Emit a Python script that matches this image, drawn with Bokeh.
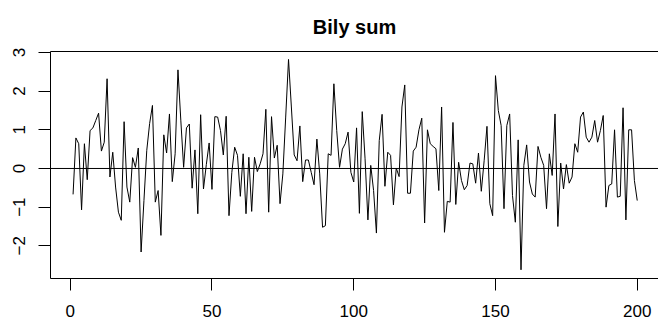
from bokeh.plotting import figure
from bokeh.models import FixedTicker, Span, LinearAxis, Range1d
from bokeh.embed import file_html
from bokeh.resources import INLINE

# White noise series
values_1_31 = [-0.67, 0.79, 0.64, -1.07, 0.64, -0.29, 0.98, 1.05, 1.24, 1.43,
               0.45, 0.68, 2.32, -0.22, 0.42, -0.48, -1.13, -1.34, 1.21, -0.48,
               -0.87, 0.28, 0.03, 0.53, -2.16, -0.83, 0.47, 1.16, 1.63, -0.87,
               -0.57]
values_32_64 = [-1.73, 0.87, 0.40, 1.41, -0.34, 0.38, 2.55, 1.25, 0.03, 1.05,
                1.15, -0.51, 0.48, -1.17, 1.39, -0.53, 0.10, 0.66, -0.54, 1.34,
                1.33, 0.98, 0.35, 1.35, -1.22, -0.10, 0.55, 0.34, -0.72, 0.38,
                -1.17, 0.29, -1.11]
values_65_98 = [0.29, -0.08, 0.12, 0.38, 1.53, -1.13, 1.34, 0.27, 0.60, -0.91,
                -0.14, 1.33, 2.82, 1.59, 0.35, 0.20, 1.10, -0.34, 0.22, 0.22,
                -0.10, -0.42, 0.76, -0.14, -1.52, -1.48, 0.38, 0.34, 2.19, 0.98,
                0.03, 0.50, 0.64, 0.94]
values_99_131 = [-0.10, -0.35, 1.05, -1.16, 1.47, 0.25, -1.33, 0.08, -0.57, -1.67,
                 0.72, 1.40, -0.46, 0.42, 0.34, -0.94, 0.01, -0.21, 1.59, 2.16,
                 -0.64, -0.64, 0.45, 0.55, 1.00, 1.30, -1.41, 1.00, 0.64, 0.57,
                 0.51, -0.57, 1.59]
values_132_164 = [-1.65, -0.85, -0.87, 1.19, -0.93, 0.16, -0.31, -0.55, -0.44, 0.14,
                  0.12, -0.38, 0.40, -0.59, 0.20, 1.09, -0.91, -1.22, 2.40, 1.50,
                  1.11, -1.04, 1.11, 1.41, -0.70, -1.39, 0.74, -2.62, 0.08, 0.61,
                  -0.35, -0.66, -0.74]
values_165_200 = [0.57, 0.29, 0.08, -1.04, 0.38, -0.18, 1.41, -1.50, 0.14, -0.53,
                  0.10, -0.38, -0.22, 0.64, 0.42, 1.33, 1.46, 0.81, 0.68, 0.81,
                  1.24, 0.68, 0.98, 1.37, -1.00, -0.44, -0.40, 1.00, -0.74, -0.72,
                  1.57, -1.33, 1.00, 1.00, -0.31, -0.83]

series = (values_1_31 + values_32_64 + values_65_98 + values_99_131
          + values_132_164 + values_165_200)
index = list(range(1, len(series) + 1))

x_ticks = [0, 50, 100, 150, 200]
y_ticks = [-2, -1, 0, 1, 2, 3]
title_text = "Bily sum"

FONT = "Liberation Sans"

p = figure(width=658, height=321, output_backend="svg", toolbar_location=None,
           x_range=Range1d(-6.96, 207.5), y_range=Range1d(-2.845, 3.025),
           min_border_left=50, min_border_right=0, min_border_top=51,
           min_border_bottom=43, x_axis_location="below", y_axis_location="left")
p.outline_line_color = None
p.background_fill_color = "white"
p.border_fill_color = "white"
p.grid.visible = False

p.title.text = title_text
p.title.align = "center"
p.title.text_font = FONT
p.title.text_font_size = "20px"
p.title.text_font_style = "bold"
p.title.text_color = "black"
p.title.standoff = 27

for ax in (p.xaxis[0], p.yaxis[0]):
    ax.axis_line_color = "black"
    ax.axis_line_width = 1
    ax.major_tick_line_color = "black"
    ax.major_tick_out = 12
    ax.major_tick_in = 0
    ax.minor_tick_line_color = None
    ax.major_label_text_font = FONT
    ax.major_label_text_font_size = "17px"
    ax.major_label_text_color = "black"

p.xaxis[0].major_label_standoff = 14
p.yaxis[0].major_label_standoff = 13
p.xaxis[0].ticker = FixedTicker(ticks=x_ticks)
p.yaxis[0].ticker = FixedTicker(ticks=y_ticks)
p.yaxis[0].major_label_orientation = "vertical"

top = LinearAxis(ticker=FixedTicker(ticks=[]), major_label_text_font_size="0px",
                 major_tick_line_color=None, minor_tick_line_color=None,
                 major_tick_out=0, major_tick_in=0, minor_tick_out=0, minor_tick_in=0,
                 major_label_standoff=0, axis_label_standoff=0,
                 axis_line_color="black", axis_line_width=1)
p.add_layout(top, "above")

p.add_layout(Span(location=0, dimension="width", line_color="black", line_width=1))

p.line(index, series, line_color="black", line_width=1)

open("out.html", "w").write(file_html(p, INLINE))
